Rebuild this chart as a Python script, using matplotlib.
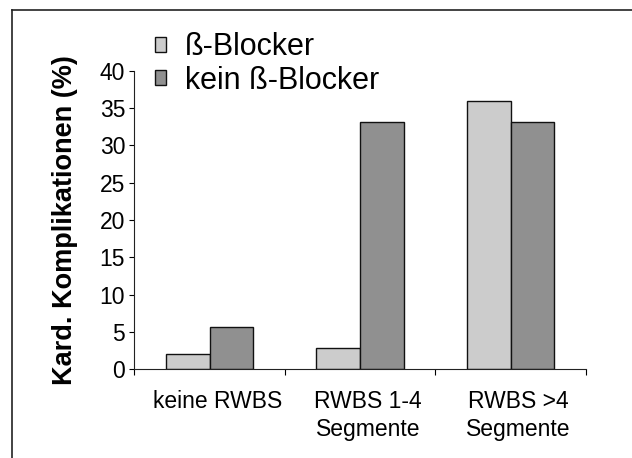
import numpy as np
import matplotlib
matplotlib.use('Agg')
import matplotlib.pyplot as plt
import matplotlib.transforms as mtransforms
from matplotlib.lines import Line2D

plt.rcParams['font.family'] = ['Liberation Sans', 'DejaVu Sans']

# data
categories = ['keine RWBS', 'RWBS 1-4\nSegmente', 'RWBS >4\nSegmente']
betaBlocker = [2.1, 2.9, 36.0]
keinBetaBlocker = [5.7, 33.1, 33.1]
seriesNames = ['ß-Blocker', 'kein ß-Blocker']
yTicks = [0, 5, 10, 15, 20, 25, 30, 35, 40]

fig = plt.figure(figsize=(6.32, 4.58), dpi=100)
ax = fig.add_axes([0.2125, 0.1937, 0.7145, 0.6519])

x = np.arange(len(categories))
width = 0.29
b1 = ax.bar(x - width / 2, betaBlocker, width, color='#cccccc', edgecolor='#111111', linewidth=1.0, label=seriesNames[0])
b2 = ax.bar(x + width / 2, keinBetaBlocker, width, color='#909090', edgecolor='#111111', linewidth=1.0, label=seriesNames[1])

ax.set_xlim(-0.5, len(categories) - 0.5)
ax.set_ylim(0, 40)
ax.set_yticks(yTicks)
ax.tick_params(axis='y', labelsize=16.5, length=3.6, width=0.8, pad=3, direction='out')

# category labels centred, tick marks on the category boundaries
ax.set_xticks(x)
ax.set_xticklabels(categories, fontsize=16.5, linespacing=1.25)
ax.tick_params(axis='x', which='major', length=0, pad=15)
ax.set_xticks(np.arange(len(categories) + 1) - 0.5, minor=True)
ax.tick_params(axis='x', which='minor', length=4.5, width=0.8, direction='out')
shift = mtransforms.ScaledTranslation(8 / 100, 0, fig.dpi_scale_trans)
for lbl in ax.get_xticklabels():
    lbl.set_transform(lbl.get_transform() + shift)

for side in ['top', 'right']:
    ax.spines[side].set_visible(False)
for side in ['left', 'bottom']:
    ax.spines[side].set_linewidth(0.8)
    ax.spines[side].set_color('#222222')

ax.set_ylabel('Kard. Komplikationen (%)', fontsize=19.5, fontweight='bold')
ax.yaxis.set_label_coords(-0.125, 0.5)

leg = fig.legend(handles=[b1, b2], loc='upper left', bbox_to_anchor=(0.245, 0.93),
                 fontsize=22, frameon=False, handlelength=0.38, handleheight=0.38,
                 handletextpad=0.6, labelspacing=0.12, borderpad=0, borderaxespad=0)

# frame lines along the top and left edge
fig.add_artist(Line2D([0.019, 1.0], [0.978, 0.978], transform=fig.transFigure, color='#222222', linewidth=1.2))
fig.add_artist(Line2D([0.019, 0.019], [0.0, 0.978], transform=fig.transFigure, color='#222222', linewidth=1.2))

fig.savefig('out.png', dpi=100)
